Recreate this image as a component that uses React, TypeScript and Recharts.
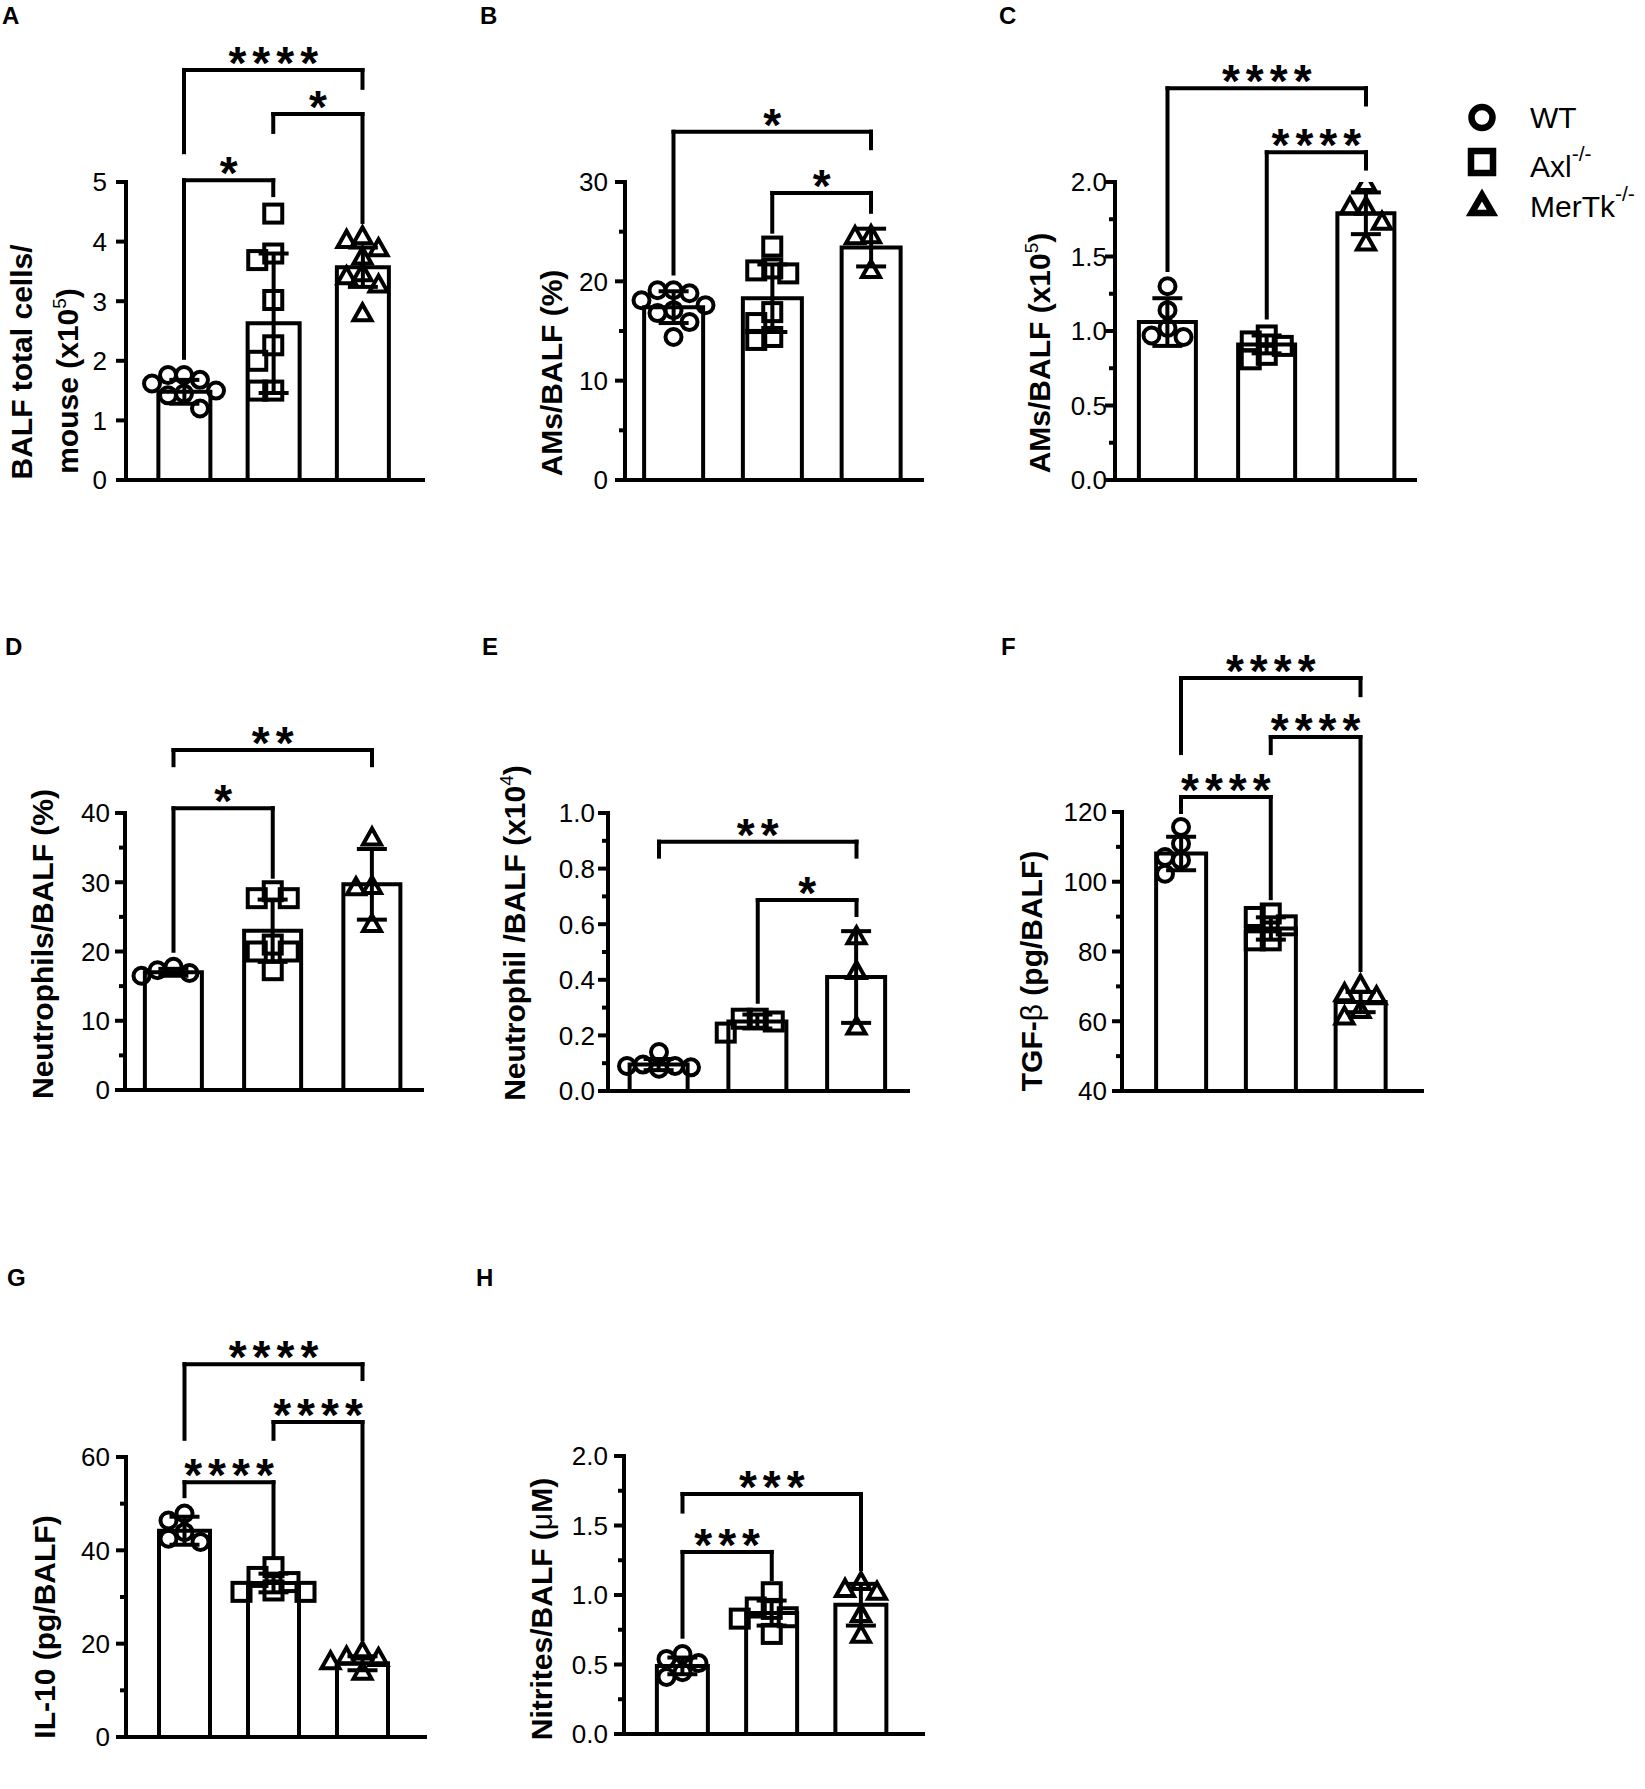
import React from 'react';
import { ComposedChart, Bar, Scatter, XAxis, YAxis, ErrorBar, ReferenceLine } from 'recharts';

const FONT = '"Liberation Sans", Arial, Helvetica, sans-serif';
const INK = '#000';

const groups = ['WT', 'Axl-/-', 'MerTk-/-'];

// A: BALF total cells / mouse (x10^5)
const aMeans = [1.48, 2.63, 3.57];
const aSd = [0.2, 1.17, 0.33];
const aWT = [1.2, 1.42, 1.45, 1.5, 1.62, 1.68, 1.76, 1.76];
const aAxl = [4.47, 3.8, 3.69, 3.02, 2.26, 2.0, 1.5, 1.5];
const aMer = [4.08, 4.02, 3.88, 3.74, 3.46, 3.41, 3.27, 2.79];
const aTicks = [0, 1, 2, 3, 4, 5];
const aMinor: number[] = [];
const aStats = [
  { a: 'WT', b: 'Axl-/-', y: 5.03, l: 2.05, r: 4.78, t: '*' },
  { a: 'Axl-/-', b: 'MerTk-/-', y: 6.14, l: 5.84, r: 4.33, t: '*' },
  { a: 'WT', b: 'MerTk-/-', y: 6.88, l: 5.5, r: 6.58, t: '****' },
];

// B: AMs/BALF (%)
const bMeans = [17.4, 18.3, 23.4];
const bSd = [1.6, 3.4, 1.9];
const bWT = [18.1, 17.6, 14.4, 19.1, 17.1, 15.9, 18.8, 19.1, 16.8];
const bAxl = [23.5, 21.1, 21.3, 20.8, 16.9, 15.8, 14.1, 14.4];
const bMer = [24.5, 24.6, 21.1];
const bTicks = [0, 10, 20, 30];
const bMinor = [5, 15, 25];
const bStats = [
  { a: 'Axl-/-', b: 'MerTk-/-', y: 28.9, l: 25.0, r: 27.0, t: '*' },
  { a: 'WT', b: 'MerTk-/-', y: 35.07, l: 20.8, r: 33.4, t: '*' },
];

// C: AMs/BALF (x10^5)
const cMeans = [1.06, 0.91, 1.79];
const cSd = [0.16, 0.06, 0.14];
const cWT = [1.3, 1.14, 0.96, 0.97, 1.02];
const cAxl = [0.97, 0.93, 0.84, 0.81, 0.9];
const cMer = [1.99, 1.83, 1.83, 1.73, 1.59];
const cTicks = [0, 0.5, 1, 1.5, 2];
const cMinor = [0.25, 0.75, 1.25, 1.75];
const cStats = [
  { a: 'Axl-/-', b: 'MerTk-/-', y: 2.2, l: 1.09, r: 2.09, t: '****' },
  { a: 'WT', b: 'MerTk-/-', y: 2.63, l: 1.41, r: 2.52, t: '****' },
];

// D: Neutrophils/BALF (%)
const dMeans = [17.0, 23.0, 29.7];
const dSd = [0.5, 4.5, 5.1];
const dWT = [16.5, 17.8, 16.9, 17.3];
const dAxl = [27.7, 27.7, 28.7, 21.0, 20.0, 20.0, 17.3];
const dMer = [36.4, 29.4, 29.2, 23.9];
const dTicks = [0, 10, 20, 30, 40];
const dMinor = [5, 15, 25, 35];
const dStats = [
  { a: 'WT', b: 'Axl-/-', y: 40.7, l: 20.1, r: 30.8, t: '*' },
  { a: 'WT', b: 'MerTk-/-', y: 49.1, l: 46.9, r: 46.9, t: '**' },
];

// E: Neutrophil /BALF (x10^4)
const eMeans = [0.095, 0.25, 0.41];
const eSd = [0.02, 0.025, 0.165];
const eWT = [0.09, 0.14, 0.085, 0.095, 0.08, 0.09];
const eAxl = [0.21, 0.26, 0.25, 0.26];
const eMer = [0.555, 0.43, 0.23];
const eTicks = [0, 0.2, 0.4, 0.6, 0.8, 1];
const eMinor = [0.1, 0.3, 0.5, 0.7, 0.9];
const eStats = [
  { a: 'Axl-/-', b: 'MerTk-/-', y: 0.687, l: 0.321, r: 0.633, t: '*' },
  { a: 'WT', b: 'MerTk-/-', y: 0.897, l: 0.843, r: 0.843, t: '**' },
];

// F: TGF-beta (pg/BALF)
const fMeans = [108.1, 86.6, 65.5];
const fSd = [4.8, 3.2, 2.9];
const fWT = [115.7, 110.9, 107.1, 106.2, 102.3];
const fAxl = [90.9, 89.9, 87.5, 83.2, 83.2];
const fMer = [70.3, 67.9, 67.0, 61.2, 63.1];
const fTicks = [40, 60, 80, 100, 120];
const fMinor = [50, 70, 90, 110];
const fStats = [
  { a: 'WT', b: 'Axl-/-', y: 124.3, l: 120, r: 95.3, t: '****' },
  { a: 'Axl-/-', b: 'MerTk-/-', y: 141.5, l: 136.9, r: 74.7, t: '****' },
  { a: 'WT', b: 'MerTk-/-', y: 158.4, l: 136.9, r: 153.5, t: '****' },
];

// G: IL-10 (pg/BALF)
const gMeans = [44.2, 33.0, 15.8];
const gSd = [3.0, 2.0, 1.5];
const gWT = [41.8, 47.9, 46.4, 43.9, 42.5];
const gAxl = [36.4, 34.3, 31.1, 33.2, 31.1, 31.4];
const gMer = [18.2, 16.8, 17.1, 13.9, 16.1];
const gTicks = [0, 20, 40, 60];
const gMinor = [10, 30, 50];
const gStats = [
  { a: 'WT', b: 'Axl-/-', y: 54.6, l: 51.6, r: 38.6, t: '****' },
  { a: 'Axl-/-', b: 'MerTk-/-', y: 67.5, l: 63.9, r: 21.0, t: '****' },
  { a: 'WT', b: 'MerTk-/-', y: 79.9, l: 63.9, r: 76.7, t: '****' },
];

// H: Nitrites/BALF (uM)
const hMeans = [0.49, 0.87, 0.93];
const hSd = [0.06, 0.09, 0.15];
const hWT = [0.54, 0.41, 0.51, 0.575, 0.445];
const hAxl = [1.02, 0.91, 0.9, 0.72, 0.84, 0.83];
const hMer = [1.04, 1.09, 1.02, 0.86, 0.71];
const hTicks = [0, 0.5, 1, 1.5, 2];
const hMinor = [0.25, 0.75, 1.25, 1.75];
const hStats = [
  { a: 'WT', b: 'Axl-/-', y: 1.31, l: 0.7, r: 1.115, t: '***' },
  { a: 'WT', b: 'MerTk-/-', y: 1.727, l: 1.6, r: 1.187, t: '***' },
];

type Stat = { a: string; b: string; y: number; l: number; r: number; t: string };
type Line = { x: number; y: number; text: string };
type PanelCfg = {
  box: number[]; L: number; T: number; R: number; B: number; c1: number; c3: number; barW: number; gap: number;
  domain: number[]; ticks: number[]; minor: number[]; dec: number;
  means: number[]; sd: number[]; pts: number[][]; stats: Stat[]; label: Line[];
};

const panels: PanelCfg[] = [
  { box: [0, 30, 475, 505], L: 126, T: 182, R: 423, B: 480, c1: 184, c3: 362.5, barW: 52, gap: 19,
    domain: [0, 5], ticks: aTicks, minor: aMinor, dec: 0, means: aMeans, sd: aSd, pts: [aWT, aAxl, aMer], stats: aStats,
    label: [{ x: 32, y: 362, text: 'BALF total cells/' }, { x: 78, y: 381, text: 'mouse (x10^5^)' }] },
  { box: [480, 30, 960, 505], L: 625, T: 182, R: 922, B: 480, c1: 673.5, c3: 871, barW: 59, gap: 17,
    domain: [0, 30], ticks: bTicks, minor: bMinor, dec: 0, means: bMeans, sd: bSd, pts: [bWT, bAxl, bMer], stats: bStats,
    label: [{ x: 562, y: 373, text: 'AMs/BALF (%)' }] },
  { box: [990, 30, 1450, 505], L: 1115, T: 182, R: 1415, B: 480, c1: 1167.5, c3: 1366, barW: 57, gap: 8,
    domain: [0, 2], ticks: cTicks, minor: cMinor, dec: 1, means: cMeans, sd: cSd, pts: [cWT, cAxl, cMer], stats: cStats,
    label: [{ x: 1050, y: 353, text: 'AMs/BALF (x10^5^)' }] },
  { box: [0, 630, 475, 1115], L: 125, T: 813, R: 422, B: 1090, c1: 173.5, c3: 372, barW: 57, gap: 15,
    domain: [0, 40], ticks: dTicks, minor: dMinor, dec: 0, means: dMeans, sd: dSd, pts: [dWT, dAxl, dMer], stats: dStats,
    label: [{ x: 53, y: 944, text: 'Neutrophils/BALF (%)' }] },
  { box: [480, 630, 960, 1115], L: 608, T: 813, R: 908, B: 1091, c1: 659, c3: 856.5, barW: 58, gap: 13,
    domain: [0, 1], ticks: eTicks, minor: eMinor, dec: 1, means: eMeans, sd: eSd, pts: [eWT, eAxl, eMer], stats: eStats,
    label: [{ x: 525, y: 933, text: 'Neutrophil /BALF (x10^4^)' }] },
  { box: [990, 630, 1460, 1115], L: 1122, T: 812, R: 1422, B: 1091, c1: 1181, c3: 1360.5, barW: 50, gap: 15,
    domain: [40, 120], ticks: fTicks, minor: fMinor, dec: 0, means: fMeans, sd: fSd, pts: [fWT, fAxl, fMer], stats: fStats,
    label: [{ x: 1042, y: 971, text: 'TGF-~β~ (pg/BALF)' }] },
  { box: [0, 1290, 475, 1765], L: 126, T: 1457, R: 425, B: 1737, c1: 184.5, c3: 362.5, barW: 51, gap: 16,
    domain: [0, 60], ticks: gTicks, minor: gMinor, dec: 0, means: gMeans, sd: gSd, pts: [gWT, gAxl, gMer], stats: gStats,
    label: [{ x: 55, y: 1627, text: 'IL-10 (pg/BALF)' }] },
  { box: [480, 1290, 960, 1765], L: 624, T: 1456, R: 923, B: 1734, c1: 682.5, c3: 861, barW: 51, gap: 16,
    domain: [0, 2], ticks: hTicks, minor: hMinor, dec: 1, means: hMeans, sd: hSd, pts: [hWT, hAxl, hMer], stats: hStats,
    label: [{ x: 552, y: 1609, text: 'Nitrites/BALF (~μ~M)' }] },
];

const letters = [
  ['A', 2, 24], ['B', 480, 24], ['C', 999, 24],
  ['D', 5, 655], ['E', 482, 655], ['F', 1001, 655],
  ['G', 7, 1286], ['H', 476, 1286],
];

// simple beeswarm: spread points that would overlap into side columns
function swarm(values: number[], pxPerUnit: number, step = 16, gap = 16) {
  const order = values.map((_, i) => i).sort((i, j) => values[j] - values[i]);
  const placed: { k: number; py: number }[] = [];
  const offs = values.map(() => 0);
  for (const i of order) {
    const py = values[i] * pxPerUnit;
    for (const k of [0, -1, 1, -2, 2, -3, 3]) {
      if (!placed.some((p) => p.k === k && Math.abs(p.py - py) < gap)) {
        placed.push({ k, py });
        offs[i] = k * step;
        break;
      }
    }
  }
  return offs;
}

const SW = 4;
const off = (p: any) => (p.payload && p.payload.off) || 0;
const circleShape = (p: any) => (
  <circle cx={p.cx + off(p)} cy={p.cy} r={8} fill="none" stroke={INK} strokeWidth={SW} />
);
const squareShape = (p: any) => (
  <rect x={p.cx + off(p) - 9} y={p.cy - 9} width={18} height={18} fill="none" stroke={INK} strokeWidth={SW} />
);
const triangleShape = (p: any) => {
  const x = p.cx + off(p);
  const y = p.cy;
  return (
    <polygon points={`${x},${y - 9.5} ${x - 9},${y + 6.5} ${x + 9},${y + 6.5}`} fill="none" stroke={INK} strokeWidth={SW} strokeLinejoin="miter" />
  );
};
const shapes = [circleShape, squareShape, triangleShape];

function RichText({ text, bold, sup = 19, rise = 12 }: { text: string; bold: boolean; sup?: number; rise?: number }) {
  const tokens = text.split(/(\^[^^]*\^|~[^~]*~)/).filter((s) => s.length);
  let raised = false;
  return (
    <>
      {tokens.map((tok, i) => {
        if (tok.startsWith('^')) {
          raised = true;
          return <tspan key={i} fontSize={sup} dy={-rise}>{tok.slice(1, -1)}</tspan>;
        }
        const dy = raised ? rise : 0;
        raised = false;
        if (tok.startsWith('~')) {
          return <tspan key={i} dy={dy} fontWeight="normal">{tok.slice(1, -1)}</tspan>;
        }
        return <tspan key={i} dy={dy} fontWeight={bold ? 'bold' : 'normal'}>{tok}</tspan>;
      })}
    </>
  );
}

function Panel({ cfg }: { cfg: PanelCfg }) {
  const [x0, y0, x1, y1] = cfg.box;
  const width = x1 - x0;
  const height = y1 - y0;
  const xH = 10;
  const yW = cfg.L - x0;
  const margin = { top: cfg.T - y0, right: x1 - cfg.R, bottom: y1 - cfg.B - xH, left: 0 };
  const band = (cfg.c3 - cfg.c1) / 2;
  const padL = cfg.c1 - cfg.L - band / 2;
  const padR = cfg.R - cfg.c3 - band / 2;
  const pxPerUnit = (cfg.B - cfg.T) / (cfg.domain[1] - cfg.domain[0]);

  const rows = groups.map((g, i) => ({ g, mean: cfg.means[i], sd: cfg.sd[i] }));
  const scatterData = cfg.pts.map((vals, i) => {
    const offs = swarm(vals, pxPerUnit);
    return vals.map((v, j) => ({ g: groups[i], v, off: offs[j] }));
  });
  const allTicks = [...cfg.ticks, ...cfg.minor].sort((a, b) => a - b);

  const tick = (props: any) => {
    const v = props.payload.value;
    const y = props.y;
    const major = cfg.ticks.includes(v);
    return (
      <g>
        <line x1={yW - (major ? 10 : 6)} x2={yW} y1={y} y2={y} stroke={INK} strokeWidth={4} />
        {major && (
          <text x={yW - cfg.gap} y={y} dy="0.36em" textAnchor="end" fontSize={26} fontFamily={FONT} fill={INK}>
            {v.toFixed(cfg.dec)}
          </text>
        )}
      </g>
    );
  };

  const yLabel = () => (
    <g>
      {cfg.label.map((ln, i) => {
        const x = ln.x - x0;
        const y = ln.y - y0;
        return (
          <text key={i} x={x} y={y} transform={`rotate(-90 ${x} ${y})`} textAnchor="middle" fontSize={30} fontFamily={FONT} fill={INK}>
            <RichText text={ln.text} bold />
          </text>
        );
      })}
    </g>
  );

  const stars = (t: string) => (props: any) => {
    const vb = props.viewBox || {};
    return (
      <text x={vb.x + vb.width / 2 + 3} y={vb.y + 9} textAnchor="middle" fontSize={46} fontWeight="bold" letterSpacing={6} fontFamily={FONT} fill={INK}>
        {t}
      </text>
    );
  };

  const lineProps = { stroke: INK, strokeWidth: 4, strokeLinecap: 'square' as const, ifOverflow: 'visible' as const };

  return (
    <div style={{ position: 'absolute', left: x0, top: y0, width, height }}>
      <ComposedChart width={width} height={height} data={rows} margin={margin}>
        <XAxis
          dataKey="g"
          type="category"
          allowDuplicatedCategory={false}
          tick={false}
          tickLine={false}
          height={xH}
          padding={{ left: padL, right: padR }}
          axisLine={{ stroke: INK, strokeWidth: 4, strokeLinecap: 'square' }}
        />
        <YAxis
          type="number"
          domain={cfg.domain}
          allowDataOverflow
          ticks={allTicks}
          interval={0}
          tick={tick}
          tickLine={false}
          width={yW}
          axisLine={{ stroke: INK, strokeWidth: 4, strokeLinecap: 'square' }}
          label={{ content: yLabel }}
        />
        <Bar dataKey="mean" barSize={cfg.barW} fill="#fff" stroke={INK} strokeWidth={4} isAnimationActive={false}>
          <ErrorBar dataKey="sd" width={15} stroke={INK} strokeWidth={4} direction="y" />
        </Bar>
        {scatterData.map((d, i) => (
          <Scatter key={i} data={d} dataKey="v" shape={shapes[i]} isAnimationActive={false} />
        ))}
        {cfg.stats.flatMap((s, i) => [
          <ReferenceLine key={`l${i}`} segment={[{ x: s.a, y: s.l }, { x: s.a, y: s.y }]} {...lineProps} />,
          <ReferenceLine key={`h${i}`} segment={[{ x: s.a, y: s.y }, { x: s.b, y: s.y }]} {...lineProps} label={{ content: stars(s.t) }} />,
          <ReferenceLine key={`r${i}`} segment={[{ x: s.b, y: s.y }, { x: s.b, y: s.r }]} {...lineProps} />,
        ])}
      </ComposedChart>
    </div>
  );
}

function Overlay() {
  return (
    <svg width={1645} height={1789} style={{ position: 'absolute', left: 0, top: 0, pointerEvents: 'none' }}>
      {letters.map(([t, x, y]) => (
        <text key={t as string} x={x as number} y={y as number} fontSize={24} fontWeight="bold" fontFamily={FONT} fill={INK}>
          {t}
        </text>
      ))}
      <g fill="none" stroke={INK} strokeWidth={6.5}>
        <circle cx={1482} cy={117.5} r={10.5} />
        <rect x={1471} y={151} width={22} height={22} />
        <polygon points="1482,195 1471.5,213 1492.5,213" strokeLinejoin="miter" />
      </g>
      <g fontFamily={FONT} fontSize={30} fill={INK}>
        <text x={1530} y={128}>WT</text>
        <text x={1530} y={177}>
          <RichText text="Axl^-/-^" bold={false} sup={21} rise={16} />
        </text>
        <text x={1530} y={217}>
          <RichText text="MerTk^-/-^" bold={false} sup={21} rise={16} />
        </text>
      </g>
    </svg>
  );
}

export default function App() {
  return (
    <div style={{ position: 'absolute', left: 0, top: 0, width: 1645, height: 1789, background: '#fff' }}>
      {panels.map((p, i) => (
        <Panel key={i} cfg={p} />
      ))}
      <Overlay />
    </div>
  );
}
